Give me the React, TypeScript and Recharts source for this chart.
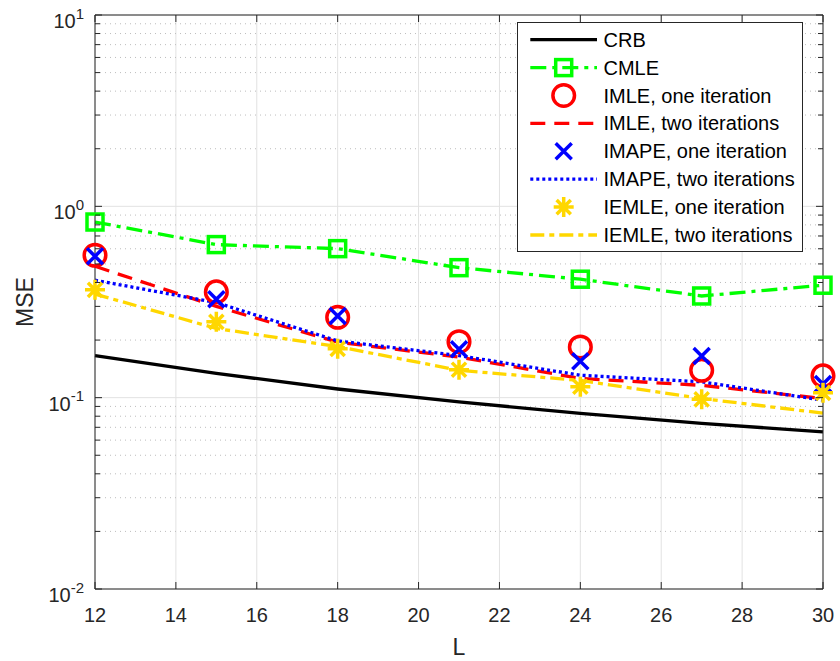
import React from 'react';
import { CartesianGrid, Legend, Line, LineChart, XAxis, YAxis } from 'recharts';

// values (MSE vs L, log scale)
const L_VALUES = [12, 15, 18, 21, 24, 27, 30];
const CRB = [0.166, 0.134, 0.111, 0.095, 0.0827, 0.0733, 0.0663];
const CMLE = [0.828, 0.631, 0.601, 0.478, 0.416, 0.34, 0.387];
const IMLE_ONE = [0.555, 0.357, 0.263, 0.196, 0.184, 0.139, 0.13];
const IMLE_TWO = [0.486, 0.3, 0.195, 0.163, 0.126, 0.116, 0.099];
const IMAPE_ONE = [0.548, 0.327, 0.267, 0.179, 0.155, 0.165, 0.118];
const IMAPE_TWO = [0.411, 0.314, 0.198, 0.166, 0.131, 0.121, 0.097];
const IEMLE_ONE = [0.366, 0.249, 0.18, 0.14, 0.114, 0.098, 0.106];
const IEMLE_TWO = [0.348, 0.23, 0.185, 0.139, 0.123, 0.099, 0.083];

const X_TICKS = [12, 14, 16, 18, 20, 22, 24, 26, 28, 30];
const Y_MAJOR = [0.01, 0.1, 1, 10];
const Y_EXPONENTS = ['-2', '-1', '0', '1'];
const Y_MINOR = [
  0.02, 0.03, 0.04, 0.05, 0.06, 0.07, 0.08, 0.09,
  0.2, 0.3, 0.4, 0.5, 0.6, 0.7, 0.8, 0.9,
  2, 3, 4, 5, 6, 7, 8, 9,
];
const Y_ALL = [...Y_MAJOR, ...Y_MINOR].sort((a, b) => a - b);

const data = L_VALUES.map((L, i) => ({
  L,
  crb: CRB[i],
  cmle: CMLE[i],
  imle1: IMLE_ONE[i],
  imle2: IMLE_TWO[i],
  imape1: IMAPE_ONE[i],
  imape2: IMAPE_TWO[i],
  iemle1: IEMLE_ONE[i],
  iemle2: IEMLE_TWO[i],
}));

type MarkerKind = 'square' | 'circle' | 'x' | 'star' | null;

interface SeriesDef {
  key: string;
  name: string;
  color: string;
  line: boolean;
  dash?: string;
  marker: MarkerKind;
}

const SERIES: SeriesDef[] = [
  { key: 'crb', name: 'CRB', color: '#000000', line: true, marker: null },
  { key: 'cmle', name: 'CMLE', color: '#00ff00', line: true, dash: '16 6 4 6', marker: 'square' },
  { key: 'imle1', name: 'IMLE, one iteration', color: '#ff0000', line: false, marker: 'circle' },
  { key: 'imle2', name: 'IMLE, two iterations', color: '#ff0000', line: true, dash: '15 9', marker: null },
  { key: 'imape1', name: 'IMAPE, one iteration', color: '#0000ff', line: false, marker: 'x' },
  { key: 'imape2', name: 'IMAPE, two iterations', color: '#0000ff', line: true, dash: '3 3', marker: null },
  { key: 'iemle1', name: 'IEMLE, one iteration', color: '#ffd700', line: false, marker: 'star' },
  { key: 'iemle2', name: 'IEMLE, two iterations', color: '#ffd700', line: true, dash: '14 5 5 5', marker: null },
];

const FONT = '"Liberation Sans", Arial, Helvetica, sans-serif';
const AXIS_COLOR = '#262626';
const LINE_W = 3.3;

function Marker({ kind, cx, cy, color }: { kind: MarkerKind; cx: number; cy: number; color: string }) {
  const common = { fill: 'none', stroke: color, strokeWidth: 3.5 };
  if (kind === 'square') return <rect x={cx - 8} y={cy - 8} width={16} height={16} {...common} />;
  if (kind === 'circle') return <circle cx={cx} cy={cy} r={10.8} {...common} />;
  if (kind === 'x')
    return <path d={`M${cx - 8},${cy - 8}L${cx + 8},${cy + 8}M${cx - 8},${cy + 8}L${cx + 8},${cy - 8}`} {...common} />;
  if (kind === 'star') {
    const r = 10;
    const d = 7.07;
    return (
      <path
        d={`M${cx - r},${cy}L${cx + r},${cy}M${cx},${cy - r}L${cx},${cy + r}` +
          `M${cx - d},${cy - d}L${cx + d},${cy + d}M${cx - d},${cy + d}L${cx + d},${cy - d}`}
        {...common}
      />
    );
  }
  return null;
}

const LeftTick = (props: any) => {
  const { x, y, payload } = props;
  const axisX = x + 11;
  const idx = Y_MAJOR.indexOf(payload.value);
  const major = idx >= 0;
  return (
    <g>
      <line x1={axisX} x2={axisX + (major ? 7 : 5)} y1={y} y2={y} stroke={AXIS_COLOR} strokeWidth={1} />
      {major && (
        <text x={x} y={y + 13} textAnchor="end" fill={AXIS_COLOR} fontFamily={FONT} fontSize={20}>
          <tspan>10</tspan>
          <tspan dy={-9.5} fontSize={15}>{Y_EXPONENTS[idx]}</tspan>
        </text>
      )}
    </g>
  );
};

const RightTick = (props: any) => {
  const { x, y, payload } = props;
  const major = Y_MAJOR.includes(payload.value);
  return <line x1={x} x2={x - (major ? 7 : 5)} y1={y} y2={y} stroke={AXIS_COLOR} strokeWidth={1} />;
};

const BottomTick = (props: any) => {
  const { x, y, payload } = props;
  return (
    <g>
      <line x1={x} x2={x} y1={y} y2={y - 7} stroke={AXIS_COLOR} strokeWidth={1} />
      <text x={x} y={y + 32.5} textAnchor="middle" fill={AXIS_COLOR} fontFamily={FONT} fontSize={20}>
        {payload.value}
      </text>
    </g>
  );
};

const TopTick = (props: any) => {
  const { x, y } = props;
  return <line x1={x} x2={x} y1={y} y2={y + 7} stroke={AXIS_COLOR} strokeWidth={1} />;
};

function LegendBox() {
  const rowH = 27.9;
  return (
    <div
      style={{
        width: 286,
        height: 230,
        background: '#ffffff',
        border: `1px solid ${AXIS_COLOR}`,
        boxSizing: 'border-box',
      }}
    >
      <svg width={284} height={228} style={{ display: 'block' }}>
        {SERIES.map((s, i) => {
          const cy = 16.7 + i * rowH;
          return (
            <g key={s.key}>
              {s.line && (
                <line x1={12.3} x2={79} y1={cy} y2={cy} stroke={s.color} strokeWidth={LINE_W} strokeDasharray={s.dash} />
              )}
              {s.marker && <Marker kind={s.marker} cx={45.7} cy={cy} color={s.color} />}
              <text x={85.5} y={cy + 7} fill="#000000" fontFamily={FONT} fontSize={20}>
                {s.name}
              </text>
            </g>
          );
        })}
      </svg>
    </div>
  );
}

export default function App() {
  return (
    <div style={{ position: 'absolute', left: 0, top: 0, width: 840, height: 661, background: '#ffffff' }}>
      <LineChart width={840} height={661} data={data} margin={{ top: 10, right: 12, bottom: 12, left: 0 }}>
        <CartesianGrid stroke="#e2e2e2" horizontalValues={Y_MAJOR} verticalValues={X_TICKS} />
        <CartesianGrid stroke="#bdbdbd" strokeDasharray="1 4" vertical={false} horizontalValues={Y_MINOR} />
        <XAxis
          dataKey="L"
          type="number"
          domain={[12, 30]}
          ticks={X_TICKS}
          interval={0}
          height={60}
          tickSize={0}
          tickMargin={0}
          tick={BottomTick}
          axisLine={{ stroke: AXIS_COLOR, strokeWidth: 1 }}
          label={(p: any) => {
            const vb = p.viewBox;
            return (
              <text x={vb.x + vb.width / 2} y={655} textAnchor="middle" fill={AXIS_COLOR} fontFamily={FONT} fontSize={23}>
                L
              </text>
            );
          }}
        />
        <XAxis
          xAxisId="top"
          orientation="top"
          dataKey="L"
          type="number"
          domain={[12, 30]}
          ticks={X_TICKS}
          interval={0}
          height={5}
          tickSize={0}
          tickMargin={0}
          tick={TopTick}
          axisLine={{ stroke: AXIS_COLOR, strokeWidth: 1 }}
        />
        <YAxis
          type="number"
          scale="log"
          domain={[0.01, 10]}
          allowDataOverflow
          ticks={Y_ALL}
          interval={0}
          width={95}
          tickSize={0}
          tickMargin={11}
          tick={LeftTick}
          axisLine={{ stroke: AXIS_COLOR, strokeWidth: 1 }}
          label={(p: any) => {
            const vb = p.viewBox;
            const cy = vb.y + vb.height / 2;
            return (
              <text
                x={33}
                y={cy}
                transform={`rotate(-90 33 ${cy})`}
                textAnchor="middle"
                fill={AXIS_COLOR}
                fontFamily={FONT}
                fontSize={23}
              >
                MSE
              </text>
            );
          }}
        />
        <YAxis
          yAxisId="right"
          orientation="right"
          type="number"
          scale="log"
          domain={[0.01, 10]}
          allowDataOverflow
          ticks={Y_ALL}
          interval={0}
          width={5}
          tickSize={0}
          tickMargin={0}
          tick={RightTick}
          axisLine={{ stroke: AXIS_COLOR, strokeWidth: 1 }}
        />
        {SERIES.map((s) => (
          <Line
            key={s.key}
            dataKey={s.key}
            name={s.name}
            type="linear"
            stroke={s.line ? s.color : 'none'}
            strokeWidth={LINE_W}
            strokeDasharray={s.dash}
            isAnimationActive={false}
            activeDot={false}
            dot={
              s.marker
                ? (p: any) =>
                    p.cx == null || p.cy == null ? (
                      <g key={`${s.key}-${p.index}`} />
                    ) : (
                      <g key={`${s.key}-${p.index}`}>
                        <Marker kind={s.marker} cx={p.cx} cy={p.cy} color={s.color} />
                      </g>
                    )
                : false
            }
          />
        ))}
        <Legend
          layout="vertical"
          align="center"
          verticalAlign="middle"
          content={() => <LegendBox />}
          wrapperStyle={{ left: 517, top: 22, width: 286, height: 230, right: 'auto', bottom: 'auto' }}
        />
      </LineChart>
    </div>
  );
}
